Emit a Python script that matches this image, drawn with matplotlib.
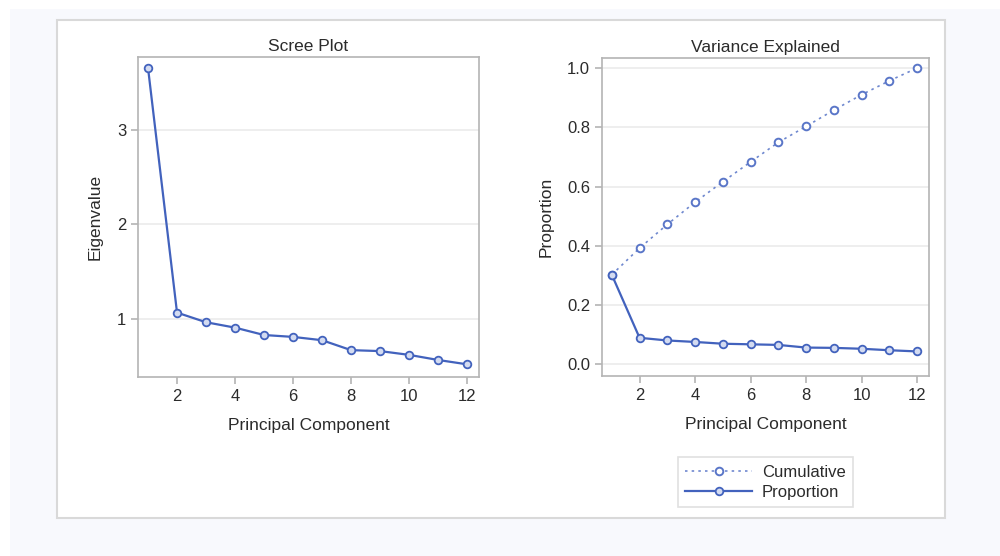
import matplotlib.pyplot as plt
from matplotlib.patches import Rectangle

plt.rcParams['font.family'] = ['Liberation Sans', 'DejaVu Sans']

# PCA output: eigenvalues and variance explained per component
components = [1, 2, 3, 4, 5, 6, 7, 8, 9, 10, 11, 12]
eigenvalues = [3.656, 1.067, 0.965, 0.908, 0.830, 0.810, 0.775, 0.670, 0.660, 0.620, 0.566, 0.520]
proportion = [0.302, 0.089, 0.080, 0.075, 0.069, 0.067, 0.065, 0.056, 0.055, 0.052, 0.047, 0.043]
cumulative = [0.302, 0.392, 0.472, 0.547, 0.616, 0.683, 0.749, 0.803, 0.858, 0.910, 0.957, 1.000]

LINE = '#4262bd'
TEXT = '#2b2b2b'
AXIS = '#b4b4b4'
GRID = '#ebebeb'

fig = plt.figure(figsize=(10, 5.56), dpi=100)
fig.patch.set_facecolor('white')

# outer page background and white panel
fig.patches.append(Rectangle((10 / 1000, 0), 990 / 1000, 1 - 9 / 556,
                             transform=fig.transFigure, facecolor='#f8f9fd',
                             edgecolor='none', zorder=-10))
fig.patches.append(Rectangle((57 / 1000, 1 - 518 / 556), 888 / 1000, 498 / 556,
                             transform=fig.transFigure, facecolor='white',
                             edgecolor='#d9d9d9', linewidth=1.5, zorder=-9))


def style_axes(ax):
    for s in ax.spines.values():
        s.set_color(AXIS)
        s.set_linewidth(1.2)
    ax.tick_params(colors=AXIS, labelcolor=TEXT, labelsize=12, length=5, width=1.2)
    ax.yaxis.grid(True, color=GRID, linewidth=1.2)
    ax.set_axisbelow(True)
    ax.set_xticks([2, 4, 6, 8, 10, 12])
    ax.set_xlabel('Principal Component', fontsize=12.5, color=TEXT, labelpad=10)


def fig_box(left, top, right, bottom):
    return [left / 1000, 1 - bottom / 556, (right - left) / 1000, (bottom - top) / 556]


marker_style = dict(marker='o', markersize=5.5, markerfacecolor='#d3dbf1',
                    markeredgecolor=LINE, markeredgewidth=1.3)

# scree plot
ax1 = fig.add_axes(fig_box(138, 57, 479, 377))
ax1.plot(components, eigenvalues, color=LINE, linewidth=1.6, **marker_style)
ax1.set_xlim(0.655, 12.41)
ax1.set_ylim(0.386, 3.77)
ax1.set_yticks([1, 2, 3])
ax1.set_ylabel('Eigenvalue', fontsize=12.5, color=TEXT, labelpad=10)
ax1.set_title('Scree Plot', fontsize=12.5, color=TEXT, pad=4)
style_axes(ax1)

# variance explained
ax2 = fig.add_axes(fig_box(602, 58, 929, 376))
ax2.plot(components, cumulative, color='#6f88cf', linewidth=1.2, linestyle=(0, (1.5, 2.5)),
         marker='o', markersize=5.5, markerfacecolor='white', markeredgecolor='#5a76c8',
         markeredgewidth=1.4, label='Cumulative')
ax2.plot(components, proportion, color=LINE, linewidth=1.6, label='Proportion', **marker_style)
ax2.set_xlim(0.647, 12.43)
ax2.set_ylim(-0.04, 1.034)
ax2.set_yticks([0.0, 0.2, 0.4, 0.6, 0.8, 1.0])
ax2.set_yticklabels(['0.0', '0.2', '0.4', '0.6', '0.8', '1.0'])
ax2.set_ylabel('Proportion', fontsize=12.5, color=TEXT, labelpad=10)
ax2.set_title('Variance Explained', fontsize=12.5, color=TEXT, pad=4)
style_axes(ax2)

leg = ax2.legend(loc='upper center', bbox_to_anchor=(0.5, -0.255), fontsize=12,
                 frameon=True, fancybox=False, handlelength=4.0, handletextpad=0.6,
                 borderpad=0.45, labelspacing=0.3, borderaxespad=0)
leg.get_frame().set_edgecolor('#d9d9d9')
leg.get_frame().set_linewidth(1.2)
for t in leg.get_texts():
    t.set_color(TEXT)

fig.savefig('out.png', dpi=100, facecolor=fig.get_facecolor())
